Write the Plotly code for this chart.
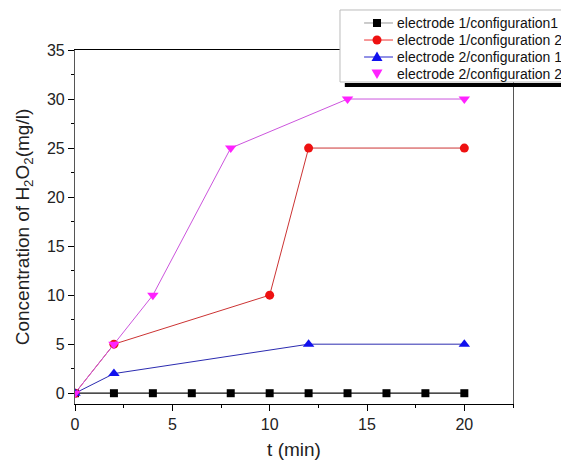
import plotly.graph_objects as go

t_e1c1 = [0, 2, 4, 6, 8, 10, 12, 14, 16, 18, 20]
c_e1c1 = [0, 0, 0, 0, 0, 0, 0, 0, 0, 0, 0]
t_e1c2 = [0, 2, 10, 12, 20]
c_e1c2 = [0, 5, 10, 25, 25]
t_e2c1 = [0, 2, 12, 20]
c_e2c1 = [0, 2, 5, 5]
t_e2c2 = [0, 2, 4, 8, 14, 20]
c_e2c2 = [0, 5, 10, 25, 30, 30]

names = ["electrode 1/configuration1", "electrode 1/configuration 2",
         "electrode 2/configuration 1", "electrode 2/configuration 2"]
line_colors = ["#111111", "#cc3333", "#2b2bb0", "#cc55dd"]
marker_colors = ["black", "#ee1111", "#1111ee", "#ff22ff"]
legend_line_colors = ["#999999", "#ee3333", "#2222cc", None]

fig = go.Figure()
fig.add_trace(go.Scatter(x=t_e1c1, y=c_e1c1, name=names[0], mode="lines+markers",
                         line=dict(color=line_colors[0], width=1.2),
                         marker=dict(symbol="square", size=8, color=marker_colors[0])))
fig.add_trace(go.Scatter(x=t_e1c2, y=c_e1c2, name=names[1], mode="lines+markers",
                         line=dict(color=line_colors[1], width=1),
                         marker=dict(symbol="circle", size=9, color=marker_colors[1])))
fig.add_trace(go.Scatter(x=t_e2c1, y=c_e2c1, name=names[2], mode="lines+markers",
                         line=dict(color=line_colors[2], width=1),
                         marker=dict(symbol="triangle-up", size=10, color=marker_colors[2])))
fig.add_trace(go.Scatter(x=t_e2c2, y=c_e2c2, name=names[3], mode="lines+markers",
                         line=dict(color=line_colors[3], width=1),
                         marker=dict(symbol="triangle-down", size=10, color=marker_colors[3])))

font = "Liberation Sans, Arial, sans-serif"

# legend drawn as a boxed key (layout styling only)
shapes = [
    dict(type="rect", xref="paper", yref="paper", x0=0.605, x1=1.13, y0=0.9096, y1=1.113,
         fillcolor="white", line=dict(color="#bbbbbb", width=1), layer="above"),
    dict(type="line", xref="paper", yref="paper", x0=0.616, x1=1.13, y0=0.901, y1=0.901,
         line=dict(color="black", width=4), layer="above"),
]
annotations = []
row_y = [1.0763, 1.0282, 0.9802, 0.9336]
mx = 0.6895
glyph_paths = [
    "M-4,-4 L4,-4 L4,4 L-4,4 Z",
    None,
    "M-5.5,-4 L5.5,-4 L0,5.5 Z",
    "M-5.5,4 L5.5,4 L0,-5.5 Z",
]
for i, name in enumerate(names):
    y = row_y[i]
    if legend_line_colors[i]:
        shapes.append(dict(type="line", xref="paper", yref="paper", x0=0.660, x1=0.726, y0=y, y1=y,
                           line=dict(color=legend_line_colors[i], width=1), layer="above"))
    if glyph_paths[i] is None:
        shapes.append(dict(type="circle", xref="paper", yref="paper", xsizemode="pixel", ysizemode="pixel",
                           xanchor=mx, yanchor=y, x0=-4.5, x1=4.5, y0=-4.5, y1=4.5,
                           fillcolor=marker_colors[i], line=dict(width=0), layer="above"))
    else:
        shapes.append(dict(type="path", xref="paper", yref="paper", xsizemode="pixel", ysizemode="pixel",
                           xanchor=mx, yanchor=y, path=glyph_paths[i],
                           fillcolor=marker_colors[i], line=dict(width=0), layer="above"))
    annotations.append(dict(text=name, xref="paper", yref="paper", x=0.731, y=y,
                            xanchor="left", yanchor="middle", showarrow=False,
                            font=dict(size=14, family=font, color="#111111")))

fig.update_layout(
    width=561, height=463,
    margin=dict(l=75, r=48, t=50, b=59, autoexpand=False),
    plot_bgcolor="white", paper_bgcolor="white",
    font=dict(family=font, color="#222222"),
    showlegend=False,
    xaxis=dict(range=[0, 22.5], tickvals=[0, 5, 10, 15, 20], showgrid=False, zeroline=False,
               showline=True, linecolor="black", linewidth=1.2, mirror=True,
               ticks="outside", ticklen=6, tickcolor="black",
               minor=dict(ticks="outside", ticklen=3, dtick=2.5, tick0=0, tickcolor="black"),
               tickfont=dict(size=16),
               title=dict(text="t (min)", font=dict(size=19), standoff=10)),
    yaxis=dict(range=[-1.1, 35], tickvals=[0, 5, 10, 15, 20, 25, 30, 35], showgrid=False, zeroline=False,
               showline=True, linecolor="#555555", linewidth=1.2, mirror=True,
               ticks="outside", ticklen=6, tickcolor="black",
               minor=dict(ticks="outside", ticklen=3, dtick=2.5, tick0=0, tickcolor="black"),
               tickfont=dict(size=16),
               title=dict(text="Concentration of H<sub>2</sub>O<sub>2</sub>(mg/l)", font=dict(size=19), standoff=12)),
    shapes=shapes,
    annotations=annotations,
)

fig.write_html("out.html")
